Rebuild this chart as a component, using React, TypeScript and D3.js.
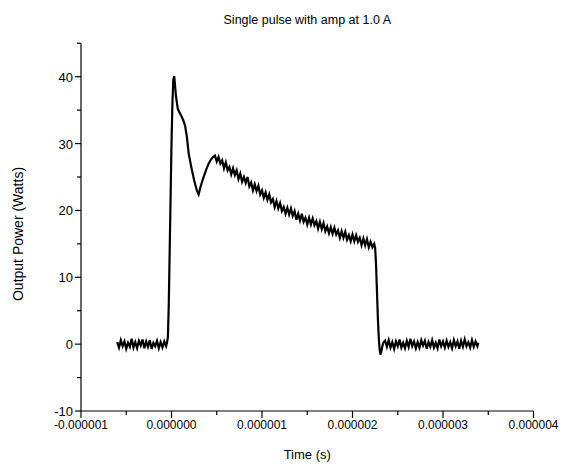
import React from "react";
import * as d3 from "d3";

// time in microseconds, power in watts
const baseStartT = [-0.60,-0.58,-0.56,-0.54,-0.52,-0.50,-0.48,-0.46,-0.44,-0.42,-0.40,-0.38,-0.36,-0.34,-0.32,-0.30,-0.28,-0.26,-0.24,-0.22,-0.20,-0.18,-0.16,-0.14,-0.12,-0.10,-0.08,-0.06,-0.05];
const baseStartP = [0.3,-0.5,0.6,-0.3,0.4,-0.7,0.2,-0.4,0.8,-0.5,0.3,-0.6,0.5,-0.2,0.7,-0.6,0.4,-0.4,0.6,-0.7,0.2,-0.3,0.5,-0.6,0.3,-0.5,0.4,-0.3,0.2];

const peakT = [-0.04,-0.03,-0.02,-0.01,0.00,0.01,0.02,0.03,0.05,0.07,0.09,0.11,0.13,0.15,0.17,0.19,0.22,0.25,0.28,0.30,0.32,0.35,0.38,0.41,0.44,0.46];
const peakP = [1.0,6,14,22,30,36,39.5,40.1,37,35.2,34.6,34.1,33.5,32.7,31,28.5,26.4,24.5,23,22.4,23.5,24.8,26,27,27.7,28.0];

const decayT = [0.48,0.50,0.52,0.54,0.56,0.58,0.60,0.62,0.64,0.66,0.68,0.70,0.72,0.74,0.76,0.78,0.80,0.82,0.84,0.86,0.88,0.90,0.92,0.94,0.96,0.98,1.00,1.02,1.04,1.06,1.08,1.10,1.12,1.14,1.16,1.18,1.20,1.22,1.24,1.26,1.28,1.30,1.32,1.34,1.36,1.38,1.40,1.42,1.44,1.46,1.48,1.50,1.52,1.54,1.56,1.58,1.60,1.62,1.64,1.66,1.68,1.70,1.72,1.74,1.76,1.78,1.80,1.82,1.84,1.86,1.88,1.90,1.92,1.94,1.96,1.98,2.00,2.02,2.04,2.06,2.08,2.10,2.12,2.14,2.16,2.18,2.20,2.22,2.24];
const decayP = [28.2,27.3,28.0,27.0,27.5,26.3,27.2,26.0,26.5,25.4,26.3,25.3,26.0,24.7,25.5,24.3,25.0,24.1,25.0,23.6,24.2,23.0,23.9,22.9,23.7,22.4,23.0,21.9,22.7,21.6,22.4,21.2,21.7,20.5,21.4,20.3,21.1,19.9,20.5,19.5,20.4,19.4,20.3,19.2,19.9,18.6,19.5,18.5,19.5,18.3,18.9,17.9,18.9,17.9,18.8,17.8,18.4,17.3,18.3,17.2,18.1,16.9,17.6,16.6,17.5,16.5,17.4,16.4,17.0,15.9,16.9,15.9,16.8,15.6,16.3,15.4,16.4,15.4,16.3,15.3,15.9,14.8,15.8,14.8,15.7,14.5,15.3,14.5,15.0];

const dropT = [2.25,2.26,2.27,2.28,2.29,2.30,2.31,2.32,2.33,2.34];
const dropP = [14.4,12,8,4,1,-0.8,-1.6,-1.0,-0.3,0.2];

const baseEndT = [2.36,2.38,2.40,2.42,2.44,2.46,2.48,2.50,2.52,2.54,2.56,2.58,2.60,2.62,2.64,2.66,2.68,2.70,2.72,2.74,2.76,2.78,2.80,2.82,2.84,2.86,2.88,2.90,2.92,2.94,2.96,2.98,3.00,3.02,3.04,3.06,3.08,3.10,3.12,3.14,3.16,3.18,3.20,3.22,3.24,3.26,3.28,3.30,3.32,3.34,3.36,3.38,3.39];
const baseEndP = [0.5,-0.4,0.6,-0.5,0.3,-0.7,0.4,-0.3,0.7,-0.5,0.2,-0.6,0.5,-0.4,0.8,-0.3,0.4,-0.6,0.3,-0.5,0.6,-0.2,0.5,-0.7,0.3,-0.4,0.6,-0.5,0.2,-0.6,0.7,-0.3,0.4,-0.5,0.5,-0.4,0.3,-0.6,0.6,-0.3,0.4,-0.7,0.5,-0.4,0.7,-0.3,0.3,-0.5,0.6,-0.4,0.4,-0.3,0.2];

const xTicks = [-1, 0, 1, 2, 3, 4];
const xTickLabels = ["-0.000001", "0.000000", "0.000001", "0.000002", "0.000003", "0.000004"];
const xMinor = [-0.5, 0.5, 1.5, 2.5, 3.5];
const yTicks = [-10, 0, 10, 20, 30, 40];
const yMinor = [-5, 5, 15, 25, 35, 45];

const title = "Single pulse with amp at 1.0 A";
const xTitle = "Time (s)";
const yTitle = "Output Power (Watts)";

export default function App() {
  const W = 564, H = 464;
  const left = 81, right = 533.5, top = 43.3, bottom = 411;
  const x = d3.scaleLinear().domain([-1, 4]).range([left, right]);
  const y = d3.scaleLinear().domain([-10, 45]).range([bottom, top]);

  const T = [...baseStartT, ...peakT, ...decayT, ...dropT, ...baseEndT];
  const P = [...baseStartP, ...peakP, ...decayP, ...dropP, ...baseEndP];
  const pts: [number, number][] = T.map((t, i) => [t, P[i]]);
  const line = d3.line<[number, number]>().x(d => x(d[0])).y(d => y(d[1]));

  const font = "Liberation Sans, Arial, Helvetica, sans-serif";
  return (
    <svg width={W} height={H} style={{ position: "absolute", left: 0, top: 0, background: "#fff", fontFamily: font }}>
      <rect width={W} height={H} fill="#fff" />
      <text x={(left + right) / 2} y={24} textAnchor="middle" fontSize={12.5}>{title}</text>
      <line x1={left} x2={left} y1={top} y2={bottom} stroke="#000" strokeWidth={1.2} />
      <line x1={left} x2={right} y1={bottom} y2={bottom} stroke="#000" strokeWidth={1.2} />
      {xTicks.map((t, i) => (
        <g key={"xt" + t}>
          <line x1={x(t)} x2={x(t)} y1={bottom} y2={bottom + 7} stroke="#000" strokeWidth={1.2} />
          <text x={x(t)} y={bottom + 18} textAnchor="middle" fontSize={12}>{xTickLabels[i]}</text>
        </g>
      ))}
      {xMinor.map(t => (
        <line key={"xm" + t} x1={x(t)} x2={x(t)} y1={bottom} y2={bottom + 4} stroke="#000" strokeWidth={1.2} />
      ))}
      {yTicks.map(v => (
        <g key={"yt" + v}>
          <line x1={left - 6} x2={left} y1={y(v)} y2={y(v)} stroke="#000" strokeWidth={1.2} />
          <text x={left - 8} y={y(v) + 5} textAnchor="end" fontSize={13}>{v}</text>
        </g>
      ))}
      {yMinor.map(v => (
        <line key={"ym" + v} x1={left - 4} x2={left} y1={y(v)} y2={y(v)} stroke="#000" strokeWidth={1.2} />
      ))}
      <path d={line(pts) || ""} fill="none" stroke="#000" strokeWidth={2.2} strokeLinejoin="miter" />
      <text x={(left + right) / 2} y={459} textAnchor="middle" fontSize={13}>{xTitle}</text>
      <text transform={`translate(23, 234) rotate(-90)`} textAnchor="middle" fontSize={14}>{yTitle}</text>
    </svg>
  );
}
